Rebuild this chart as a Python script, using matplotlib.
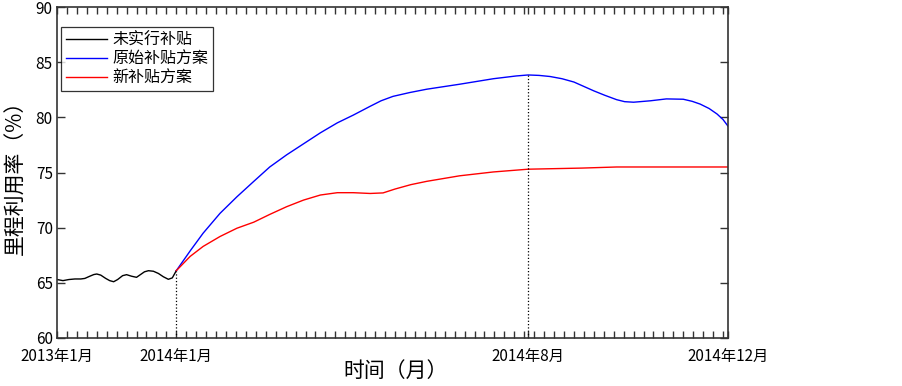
import numpy as np
import matplotlib
matplotlib.use("Agg")
import matplotlib.pyplot as plt
from matplotlib.ticker import MultipleLocator

plt.rcParams['font.family'] = ['Noto Sans CJK SC', 'DejaVu Sans']

# x in tick units (one minor tick per unit)
x_none = [0, 0.3, 0.6, 1.2, 1.8, 2.4, 2.8, 3.3, 3.7, 4.0, 4.4, 4.9, 5.3, 5.7,
          6.1, 6.6, 7.0, 7.5, 8.0, 8.4, 8.8, 9.2, 9.7, 10.2, 10.7, 11.2, 11.6, 12.0]
y_none = [65.3, 65.25, 65.2, 65.3, 65.35, 65.35, 65.4, 65.6, 65.75, 65.8, 65.7,
          65.4, 65.2, 65.1, 65.3, 65.65, 65.74, 65.6, 65.5, 65.75, 66.0, 66.1,
          66.05, 65.85, 65.55, 65.32, 65.45, 66.1]

x_orig = [12.0, 13.4, 14.7, 16.4, 18.1, 19.8, 21.4, 23.1, 24.8, 26.5, 28.2, 29.8,
          31.5, 32.6, 33.8, 35.5, 37.2, 40.5, 43.9, 46.2, 47.4, 48.5, 49.6, 50.8,
          52.0, 53.0, 54.0, 55.1, 56.3, 57.1, 58.0, 59.7, 61.3, 63.0, 63.9, 64.7,
          65.6, 66.4, 67.0, 67.5]
y_orig = [66.1, 67.9, 69.5, 71.3, 72.8, 74.2, 75.5, 76.6, 77.6, 78.6, 79.5, 80.2,
          81.0, 81.5, 81.9, 82.25, 82.55, 83.0, 83.5, 83.75, 83.84, 83.8, 83.7, 83.5,
          83.2, 82.8, 82.4, 82.0, 81.6, 81.42, 81.37, 81.5, 81.67, 81.64, 81.45, 81.2,
          80.8, 80.3, 79.8, 79.2]

x_new = [12.0, 13.4, 14.7, 16.4, 18.1, 19.8, 21.4, 23.1, 24.8, 26.5, 28.2, 29.8,
         31.5, 32.8, 34.0, 35.6, 37.2, 40.5, 43.9, 47.4, 52.8, 56.3, 67.5]
y_new = [66.1, 67.4, 68.3, 69.2, 69.95, 70.5, 71.2, 71.9, 72.5, 72.96, 73.17, 73.17,
         73.1, 73.15, 73.5, 73.9, 74.2, 74.7, 75.05, 75.3, 75.4, 75.5, 75.5]

tick_pos = [0, 12.0, 47.4, 67.5]
tick_labels = ['2013年1月', '2014年1月', '2014年8月', '2014年12月']
marks = [(12.0, 66.1), (47.4, 83.84)]

fig = plt.figure(figsize=(9.03, 3.86), dpi=100)
ax = fig.add_axes([57 / 903, 48 / 386, 671 / 903, 331 / 386])

ax.plot(x_none, y_none, color='black', lw=1, label='未实行补贴')
ax.plot(x_orig, y_orig, color='#0000ff', lw=1, label='原始补贴方案')
ax.plot(x_new, y_new, color='#ff0000', lw=1, label='新补贴方案')
for mx, my in marks:
    ax.plot([mx, mx], [60, my], color='black', lw=0.9, ls=':')

ax.set_xlim(0, 67.5)
ax.set_ylim(60, 90)
ax.set_xticks(tick_pos)
ax.set_xticklabels(tick_labels, fontsize=11)
ax.xaxis.set_minor_locator(MultipleLocator(1))
ax.set_yticks(np.arange(60, 91, 5))
ax.tick_params(axis='y', labelsize=11)
ax.tick_params(which='both', direction='in', top=True, right=True, width=1, color='#333333')
ax.tick_params(axis='x', which='both', length=5, pad=7)
ax.tick_params(axis='y', length=6, pad=3)
for s in ax.spines.values():
    s.set_linewidth(1.2)
    s.set_color('#333333')

ax.set_xlabel('时间（月）', fontsize=15)
ax.xaxis.set_label_coords(0.504, -0.065)
ax.set_ylabel('里程利用率（%）', fontsize=15)
ax.yaxis.set_label_coords(-0.045, 0.5)

leg = ax.legend(loc='upper left', bbox_to_anchor=(0.006, 0.94), fontsize=11.5,
                frameon=True, fancybox=False, edgecolor='black', handlelength=2.6,
                borderpad=0.3, labelspacing=0.12, handletextpad=0.3, borderaxespad=0)
leg.get_frame().set_linewidth(0.9)

fig.savefig('out.png', dpi=100)
